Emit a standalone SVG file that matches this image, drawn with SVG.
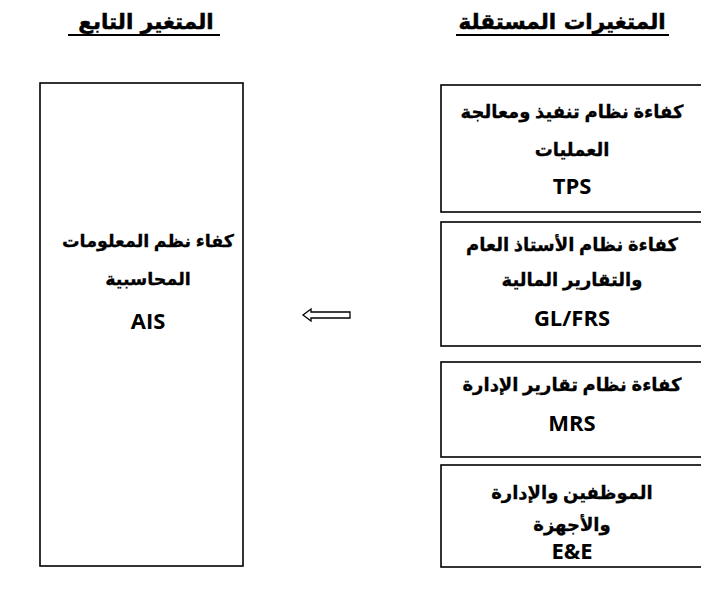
<svg xmlns="http://www.w3.org/2000/svg" width="701" height="591" viewBox="0 0 701 591">
  <style>
    .box { fill: #ffffff; stroke: #000000; stroke-width: 1.6; }
    .title { font-family: "DejaVu Sans", sans-serif; font-weight: 900; font-size: 21.5px; fill: #000; text-anchor: middle; direction: rtl; stroke: #000; stroke-width: 0.5; }
    .uline { stroke: #000; stroke-width: 2; }
    .lbl { font-family: "Open Sans", "DejaVu Sans", sans-serif; font-weight: bold; font-size: 18px; fill: #000; text-anchor: middle; direction: rtl; stroke: #000; stroke-width: 0.3; }
    .lbl-l { font-size: 17.5px; }
    .code { font-family: "Open Sans", sans-serif; font-weight: bold; font-size: 22px; fill: #000; text-anchor: middle; }
    .arrow { fill: #ffffff; stroke: #000000; stroke-width: 1.3; stroke-linejoin: miter; }
  </style>

  <!-- column headings -->
  <g id="heading-independent">
    <text class="title" x="562" y="29">المتغيرات المستقلة</text>
    <line class="uline" x1="456" y1="35" x2="669" y2="35"/>
  </g>
  <g id="heading-dependent">
    <text class="title" x="146" y="29">المتغير التابع</text>
    <line class="uline" x1="68" y1="35" x2="220" y2="35"/>
  </g>

  <!-- dependent variable -->
  <g id="node-ais">
    <rect class="box" x="40" y="83" width="203" height="483"/>
    <text class="lbl lbl-l" x="148" y="247">كفاء نظم المعلومات</text>
    <text class="lbl lbl-l" x="148" y="285">المحاسبية</text>
    <text class="code" x="148" y="329">AIS</text>
  </g>

  <!-- independent variables -->
  <g id="node-tps">
    <rect class="box" x="441" y="85" width="264" height="127"/>
    <text class="lbl" x="572" y="118">كفاءة نظام تنفيذ ومعالجة</text>
    <text class="lbl" x="572" y="156">العمليات</text>
    <text class="code" x="572" y="194">TPS</text>
  </g>
  <g id="node-glfrs">
    <rect class="box" x="441" y="222" width="264" height="124"/>
    <text class="lbl" x="572" y="251">كفاءة نظام الأستاذ العام</text>
    <text class="lbl" x="572" y="286">والتقارير المالية</text>
    <text class="code" x="572" y="326">GL/FRS</text>
  </g>
  <g id="node-mrs">
    <rect class="box" x="441" y="362" width="264" height="95"/>
    <text class="lbl" x="572" y="391">كفاءة نظام تقارير الإدارة</text>
    <text class="code" x="572" y="431">MRS</text>
  </g>
  <g id="node-ee">
    <rect class="box" x="441" y="465" width="264" height="102"/>
    <text class="lbl" x="572" y="499">الموظفين والإدارة</text>
    <text class="lbl" x="572" y="531">والأجهزة</text>
    <text class="code" x="572" y="559">E&amp;E</text>
  </g>

  <!-- connectors -->
  <g id="connectors">
    <path class="arrow" d="M303,315 L311,309 L311,312 L350,312 L350,318 L311,318 L311,321 Z"/>
  </g>
</svg>
